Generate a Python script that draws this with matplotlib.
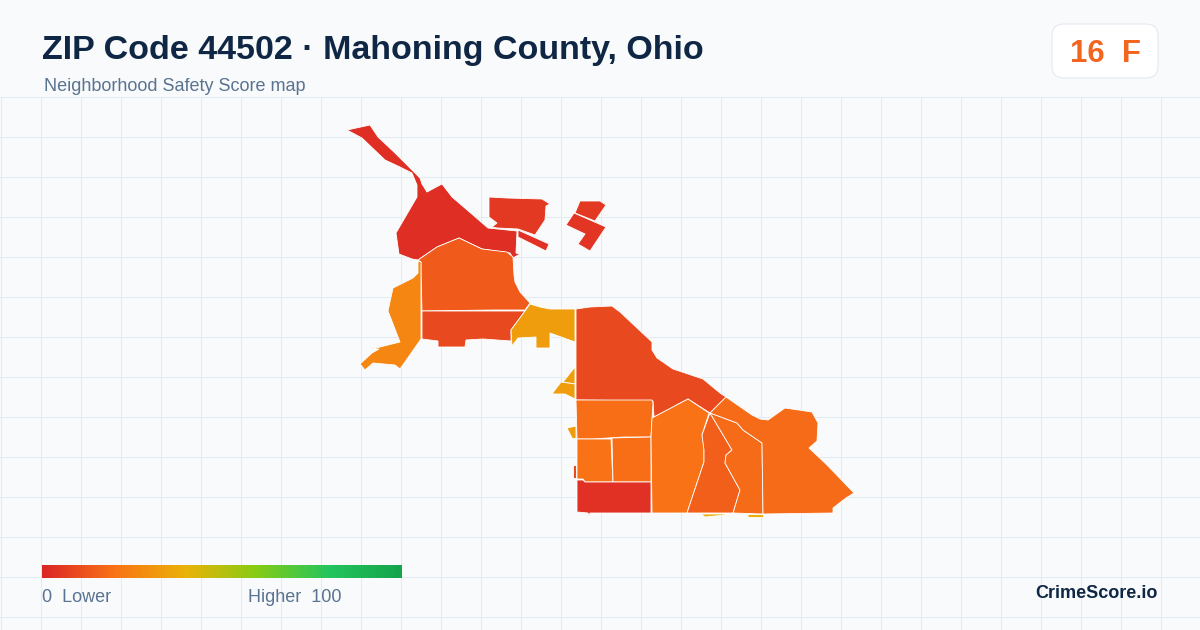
import matplotlib
matplotlib.use("Agg")
import matplotlib.pyplot as plt
import numpy as np
from matplotlib.colors import LinearSegmentedColormap
from matplotlib.patches import FancyBboxPatch, Polygon

plt.rcParams["font.family"] = ["Liberation Sans", "DejaVu Sans"]

TITLE = "ZIP Code 44502 · Mahoning County, Ohio"
SUBTITLE = "Neighborhood Safety Score map"
BADGE_SCORE = "16  F"
BRAND = "CrimeScore.io"
LOW_LABEL = "0  Lower"
HIGH_LABEL = "Higher  100"

STOP_VALUES = [0, 20, 40, 60, 80, 100]
STOP_COLORS = ["#dc2626", "#f97316", "#eab308", "#84cc16", "#22c55e", "#16a34a"]

north_tract = [(347,130),(370,125),(378,137),(395,153),(412,170),(420,178),(422,184),(427,192),(442,184),(452,197),(473,215),(488,228),(517,231),(516,253),(520,254),(513,258),(510,253),(482,249),(459,238),(437,247),(418,260),(412,259),(399,254),(396,233),(417,197),(417,185),(412,173),(400,167),(385,160),(362,138)]
top_block = [(489,197),(507,198),(542,199),(550,204),(546,206),(545,220),(535,235),(518,229),(497,228),(492,227),(497,223),(489,217)]
strip = [(518,230),(549,244),(546,251),(518,237)]
right_upper = [(580,201),(600,201),(606,205),(595,221),(575,213)]
right_lower = [(574,213),(606,227),(590,251),(578,244),(585,234),(566,225)]
centre = [(418,260),(437,247),(459,238),(482,249),(507,252),(513,257),(514,275),(515,282),(520,292),(530,303),(525,310),(493,310),(422,311),(421,273),(421,262)]
centre_south = [(422,311),(525,311),(511,330),(511,341),(483,339),(466,340),(465,347),(438,347),(438,341),(422,339)]
west = [(418,261),(421,262),(421,339),(400,369),(395,365),(373,363),(365,370),(360,364),(372,353),(379,349),(372,349),(400,342),(388,311),(393,288),(413,278),(418,273)]
mid_yellow = [(530,304),(540,307),(550,309),(575,309),(575,342),(550,333),(550,348),(536,348),(536,337),(518,338),(512,346),(511,330),(525,311)]
sliver_a = [(575,367),(575,384),(563,382)]
sliver_b = [(561,382),(575,384),(575,399),(565,394),(552,394)]
sliver_c = [(567,428),(576,426),(576,439),(572,438)]
sliver_d = [(573,465),(576,465),(576,478),(573,478)]
sliver_e = [(701,514),(726,514),(725,515),(705,517)]
sliver_f = [(747,514),(763,514),(763,517),(748,517)]
big_east = [(576,309),(590,307),(612,306),(620,312),(652,342),(652,350),(657,358),(673,369),(703,379),(720,393),(726,397),(710,413),(688,399),(654,417),(653,401),(576,400)]
block_a = [(576,400),(652,400),(653,403),(651,437),(623,437),(593,439),(577,439)]
block_b = [(577,439),(611,439),(612,462),(613,482),(585,482),(583,479),(577,479)]
block_c = [(612,438),(651,437),(651,482),(613,482)]
south_red = [(577,480),(583,480),(585,482),(651,482),(651,513),(590,513),(589,516),(588,513),(577,512)]
region_d = [(652,418),(688,399),(709,413),(702,435),(704,447),(704,462),(687,513),(652,513),(651,437)]
region_e = [(710,413),(732,450),(726,455),(725,463),(740,490),(733,513),(687,513),(704,462),(704,450),(702,435)]
region_f = [(710,413),(737,423),(743,430),(762,443),(763,514),(733,513),(740,490),(725,463),(726,455),(732,450)]
region_g = [(726,397),(752,415),(760,419),(768,420),(785,408),(812,412),(818,423),(817,441),(809,448),(827,465),(854,493),(846,498),(833,508),(833,513),(763,514),(762,443),(743,430),(737,423),(710,413)]

regions = [north_tract, top_block, strip, right_upper, right_lower, centre, centre_south, west, mid_yellow,
           sliver_a, sliver_b, sliver_c, sliver_d, sliver_e, sliver_f, big_east, block_a, block_b, block_c,
           south_red, region_d, region_e, region_f, region_g]
scores = [2, 5, 3, 5, 4, 14, 9, 26, 33, 33, 33, 33, 9, 38, 38, 9, 19, 20, 19, 3, 20, 15, 18, 18]

cmap = LinearSegmentedColormap.from_list("score", [(v / 100, c) for v, c in zip(STOP_VALUES, STOP_COLORS)])

fig = plt.figure(figsize=(12, 6.3), dpi=100, facecolor="#f8fafc")
ax = fig.add_axes([0, 0, 1, 1])
ax.set_xlim(0, 1200)
ax.set_ylim(630, 0)
ax.axis("off")

for x in range(0, 1200, 40):
    ax.plot([x + 0.5, x + 0.5], [96.5, 630], color="#e0ecf1", lw=0.72, zorder=1)
for y in range(96, 630, 40):
    ax.plot([0, 1200], [y + 0.5, y + 0.5], color="#e0ecf1", lw=0.72, zorder=1)

for poly, s in zip(regions, scores):
    ax.add_patch(Polygon(poly, closed=True, facecolor=cmap(s / 100), edgecolor="#ffffff",
                         lw=0.6, joinstyle="round", zorder=2))

ax.text(42, 59, TITLE, fontsize=24.5, fontweight="bold", color="#0f2744", va="baseline", ha="left", zorder=5)
ax.text(44, 91, SUBTITLE, fontsize=12.95, color="#5a7390", va="baseline", ha="left", zorder=5)

ax.add_patch(FancyBboxPatch((1052, 24), 106, 54, boxstyle="round,pad=0,rounding_size=12",
                            facecolor="#ffffff", edgecolor="#e2e8f0", lw=0.72, zorder=4))
ax.text(1105, 62, BADGE_SCORE, fontsize=22.4, fontweight="bold", color="#f1651e", va="baseline", ha="center", zorder=5)

grad = np.linspace(0, 1, 360).reshape(1, -1)
ax.imshow(grad, cmap=cmap, extent=(42, 402, 578, 565), aspect="auto", zorder=4, vmin=0, vmax=1)
ax.set_xlim(0, 1200)
ax.set_ylim(630, 0)

ax.text(42, 602, LOW_LABEL, fontsize=12.95, color="#5a7390", va="baseline", ha="left", zorder=5)
ax.text(341, 602, HIGH_LABEL, fontsize=12.95, color="#5a7390", va="baseline", ha="right", zorder=5)
ax.text(1158, 598, BRAND, fontsize=13, fontweight="bold", color="#0f2744", va="baseline", ha="right", zorder=5)

fig.savefig("out.png", dpi=100, facecolor=fig.get_facecolor())
